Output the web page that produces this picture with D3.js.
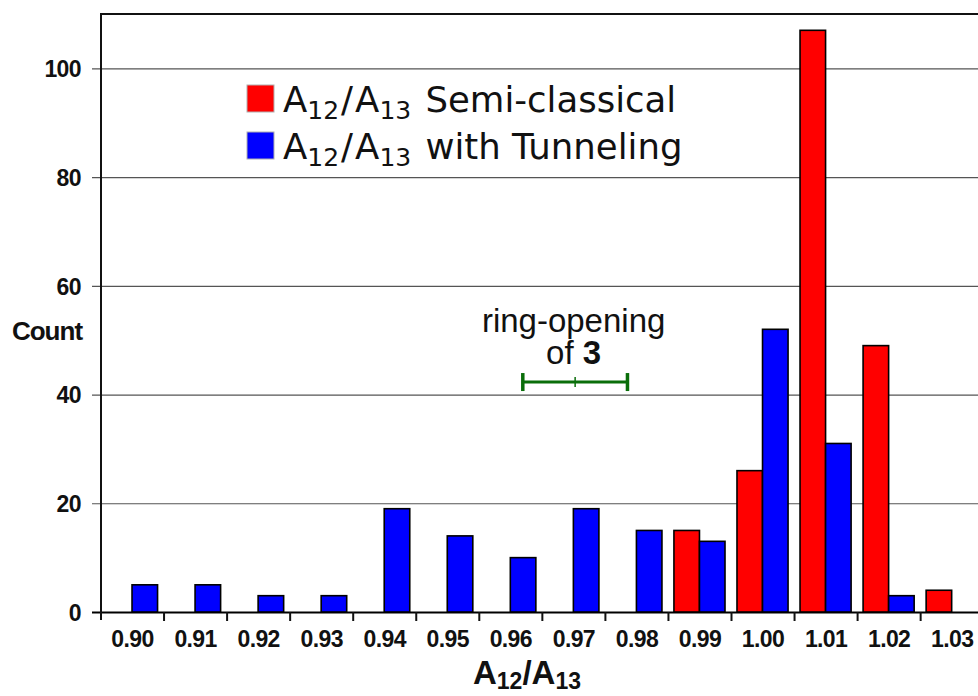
<!DOCTYPE html>
<html>
<head>
<meta charset="utf-8">
<script src="https://cdn.jsdelivr.net/npm/d3@7"></script>
<style>
  html, body { margin: 0; padding: 0; background: #fff; }
  svg { display: block; }
  .tickLabel { font-family: "Liberation Sans", Arial, sans-serif; font-weight: bold; font-size: 23px; letter-spacing: -0.6px; }
</style>
</head>
<body>
<svg id="chart" width="978" height="696"></svg>
<script>
// categories of A12/A13
let categories = ['0.90','0.91','0.92','0.93','0.94','0.95','0.96','0.97','0.98','0.99','1.00','1.01','1.02','1.03'];
// counts per category
let semiClassical = [0, 0, 0, 0, 0, 0, 0, 0, 0, 15, 26, 107, 49, 4];
let withTunneling = [5, 5, 3, 3, 19, 14, 10, 19, 15, 13, 52, 31, 3, 0];
let seriesNames = ['Semi-classical', 'with Tunneling'];
let seriesColors = ['#ff0000', '#0000ff'];
let yTicks = [0, 20, 40, 60, 80, 100];
// experimental ring-opening of 3 (center, half-width, height in counts)
let ringOpening = { center: 0.9702, halfWidth: 0.0083, level: 42.3 };

let svg = d3.select('#chart');
let plotLeft = 101, plotTop = 14, plotBottom = 612;
let step = 63.05;
let plotRight = plotLeft + step * categories.length;
let plotW = plotRight - plotLeft;

let x0 = d3.scaleBand().domain(categories).range([plotLeft, plotRight]).padding(0);
let bw = x0.bandwidth();
let x1 = d3.scaleBand().domain(seriesNames).range([bw * 0.087, bw * 0.897]).padding(0);
let xv = d3.scaleLinear()
  .domain([+categories[0], +categories[categories.length - 1]])
  .range([x0(categories[0]) + bw / 2, x0(categories[categories.length - 1]) + bw / 2]);
let y = d3.scaleLinear().domain([0, 110]).range([plotBottom, plotTop]);

// y axis with gridlines
let yAxis = svg.append('g')
  .attr('transform', 'translate(' + plotLeft + ',0)')
  .call(d3.axisLeft(y).tickValues(yTicks).tickSize(8).tickPadding(12));
yAxis.select('.domain').remove();
yAxis.selectAll('.tick line')
  .attr('x1', -9)
  .attr('x2', plotW)
  .attr('stroke', d => d === 0 ? '#000' : '#555')
  .attr('stroke-width', d => d === 0 ? 2 : 1.2);
yAxis.selectAll('.tick text')
  .attr('class', 'tickLabel')
  .attr('fill', '#111')
  .attr('dy', '0.36em');

// top frame line
svg.append('line')
  .attr('x1', plotLeft - 1).attr('x2', 978)
  .attr('y1', plotTop).attr('y2', plotTop)
  .attr('stroke', '#111').attr('stroke-width', 2);

// x axis labels
let xAxis = svg.append('g')
  .attr('transform', 'translate(0,' + plotBottom + ')')
  .call(d3.axisBottom(x0).tickSize(0).tickPadding(19));
xAxis.select('.domain').remove();
xAxis.selectAll('.tick text')
  .attr('class', 'tickLabel')
  .attr('fill', '#111')
  .attr('dy', '0.71em');

// x boundary ticks
svg.append('g').selectAll('line')
  .data(categories.slice(1))
  .join('line')
  .attr('x1', d => x0(d)).attr('x2', d => x0(d))
  .attr('y1', plotBottom).attr('y2', plotBottom + 9)
  .attr('stroke', '#111').attr('stroke-width', 2);

// bars
let rows = categories.map((c, i) => ({ cat: c, values: [semiClassical[i], withTunneling[i]] }));
svg.append('g').selectAll('g')
  .data(rows)
  .join('g')
  .attr('transform', d => 'translate(' + x0(d.cat) + ',0)')
  .selectAll('rect')
  .data(d => d.values.map((v, k) => ({ key: seriesNames[k], value: v, color: seriesColors[k] })).filter(e => e.value > 0))
  .join('rect')
  .attr('x', d => x1(d.key))
  .attr('width', x1.bandwidth())
  .attr('y', d => y(d.value))
  .attr('height', d => y(0) - y(d.value))
  .attr('fill', d => d.color)
  .attr('stroke', '#000')
  .attr('stroke-width', 1.6);

// left axis line
svg.append('line')
  .attr('x1', plotLeft).attr('x2', plotLeft)
  .attr('y1', plotTop - 1).attr('y2', plotBottom + 8)
  .attr('stroke', '#111').attr('stroke-width', 2);

// ring-opening error bar
let eb = svg.append('g').attr('stroke', '#0a6e0a');
let ebY = y(ringOpening.level);
let ebL = xv(ringOpening.center - ringOpening.halfWidth);
let ebR = xv(ringOpening.center + ringOpening.halfWidth);
eb.append('line').attr('x1', ebL).attr('x2', ebR).attr('y1', ebY).attr('y2', ebY).attr('stroke-width', 3);
[ebL, ebR].forEach(px => {
  eb.append('line').attr('x1', px).attr('x2', px).attr('y1', ebY - 9).attr('y2', ebY + 9).attr('stroke-width', 3.5);
});
eb.append('line')
  .attr('x1', xv(ringOpening.center)).attr('x2', xv(ringOpening.center))
  .attr('y1', ebY - 5).attr('y2', ebY + 5).attr('stroke-width', 1.5);

// two-line annotation in one text element
let annX = xv(ringOpening.center) - 1.5;
let ann = svg.append('text')
  .attr('y', 332)
  .attr('text-anchor', 'middle')
  .style('font-family', '"Liberation Sans", Arial, sans-serif')
  .style('font-size', '33px')
  .attr('fill', '#111');
ann.append('tspan').attr('x', annX).text('ring-opening');
ann.append('tspan').attr('x', annX).attr('dy', 32).text('of ');
ann.append('tspan').style('font-weight', 'bold').text('3');

// legend
let legend = svg.append('g').attr('transform', 'translate(247,85)');
seriesNames.forEach((name, i) => {
  let row = legend.append('g').attr('transform', 'translate(0,' + (i * 47) + ')');
  row.append('rect')
    .attr('width', 27).attr('height', 27)
    .attr('fill', seriesColors[i])
    .attr('stroke', '#b0b0b0').attr('stroke-width', 1);
  let t = row.append('text')
    .attr('x', 36).attr('y', 27)
    .style('font-family', '"DejaVu Sans", Verdana, sans-serif')
    .style('font-size', '35.5px')
    .attr('fill', '#111');
  t.append('tspan').text('A');
  t.append('tspan').attr('dy', 7).style('font-size', '25px').text('12');
  t.append('tspan').attr('dy', -7).attr('dx', 2).text('/');
  t.append('tspan').attr('dx', 2).text('A');
  t.append('tspan').attr('dy', 7).style('font-size', '25px').text('13');
  t.append('tspan').attr('dy', -7).attr('dx', 3).text(' ' + name);
});

// axis titles
svg.append('text')
  .attr('x', 47).attr('y', 340)
  .attr('text-anchor', 'middle')
  .style('font-family', '"Liberation Sans", Arial, sans-serif')
  .style('font-weight', 'bold')
  .style('font-size', '26px')
  .style('letter-spacing', '-1px')
  .attr('fill', '#111')
  .text('Count');

let xt = svg.append('text')
  .attr('x', 527).attr('y', 684)
  .attr('text-anchor', 'middle')
  .style('font-family', '"Liberation Sans", Arial, sans-serif')
  .style('font-weight', 'bold')
  .style('font-size', '33px')
  .attr('fill', '#111');
xt.append('tspan').text('A');
xt.append('tspan').attr('dy', 5).style('font-size', '23px').text('12');
xt.append('tspan').attr('dy', -5).text('/A');
xt.append('tspan').attr('dy', 5).style('font-size', '23px').text('13');
</script>
</body>
</html>
